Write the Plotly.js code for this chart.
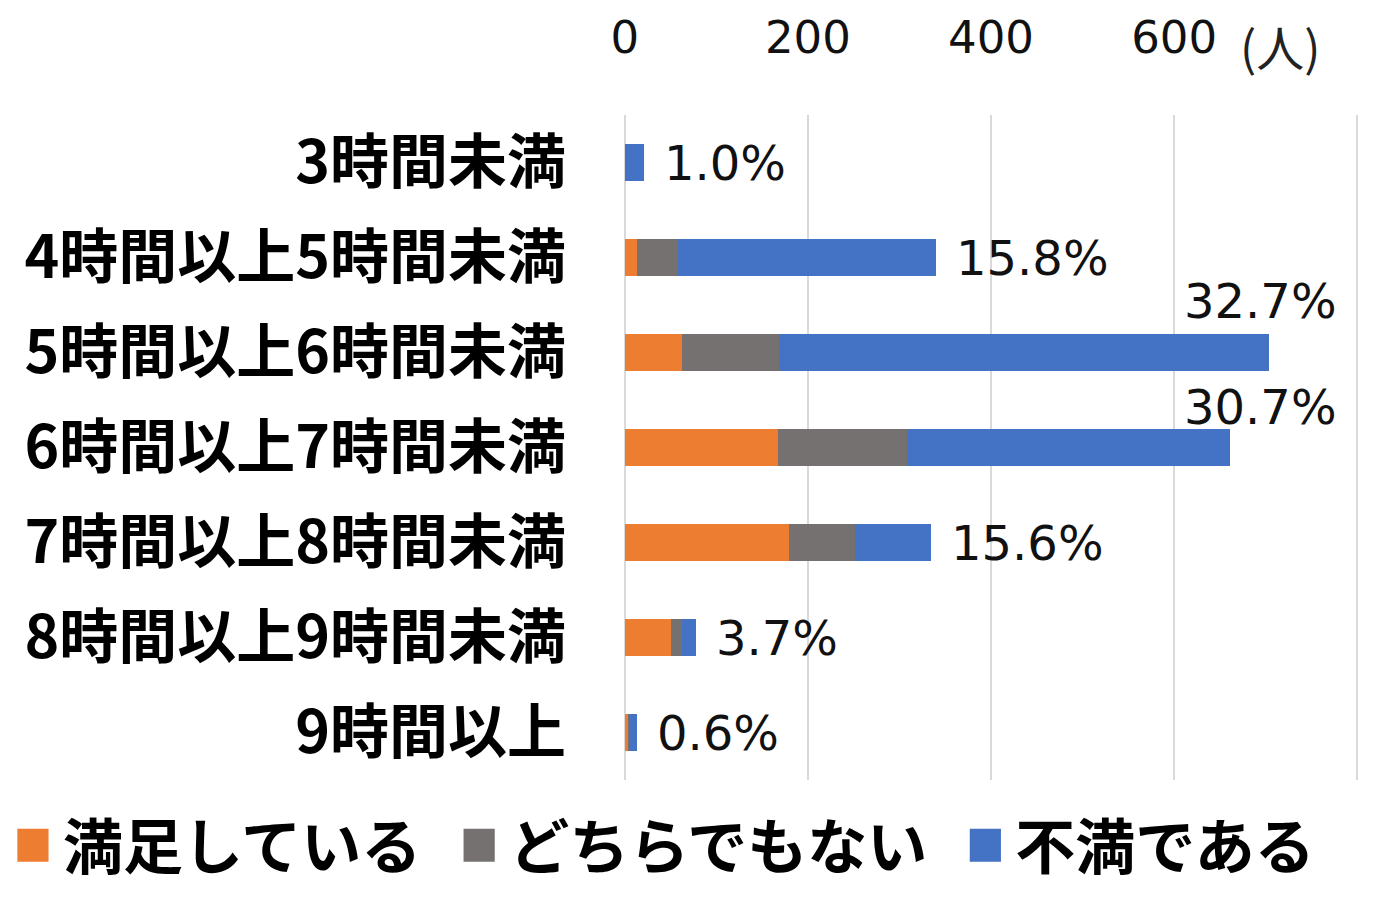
<!DOCTYPE html>
<html>
<head>
<meta charset="utf-8">
<script src="https://cdn.plot.ly/plotly-3.0.1.min.js"></script>
<style>html,body{margin:0;padding:0;background:#fff;}#chart{width:1380px;height:920px;}</style>
</head>
<body>
<div id="chart"></div>
<script>
const categories = ['3時間未満','4時間以上5時間未満','5時間以上6時間未満','6時間以上7時間未満','7時間以上8時間未満','8時間以上9時間未満','9時間以上'];
const satisfied = [0, 13, 63, 167, 179, 51, 4];
const neutral = [0, 45, 106, 141, 73, 12, 1];
const dissatisfied = [21, 282, 535, 353, 82, 15, 8];
const percentLabels = ['1.0%','15.8%','32.7%','30.7%','15.6%','3.7%','0.6%'];
const seriesNames = ['満足している','どちらでもない','不満である'];
const xTicks = [0, 200, 400, 600, 800];
const xTickText = ['0', '200', '400', '600', ''];

const colors = ['#ED7D31', '#767171', '#4472C4'];
const seriesData = [satisfied, neutral, dissatisfied];

const traces = seriesData.map((vals, i) => ({
  type: 'bar', orientation: 'h',
  y: categories, x: vals, name: seriesNames[i],
  marker: {color: colors[i]},
  hoverinfo: 'x+y+name'
}));

const totals = categories.map((c, i) => satisfied[i] + neutral[i] + dissatisfied[i]);
const labelFont = {family: 'DejaVu Sans, Verdana, sans-serif', size: 48, color: '#111'};
const aboveShift = {2: 52, 3: 41};
const annotations = categories.map((c, i) => {
  if (totals[i] > 600) {
    return {x: 1, xref: 'paper', y: c, yref: 'y', text: percentLabels[i], showarrow: false,
            xanchor: 'right', yanchor: 'middle', xshift: -22, yshift: aboveShift[i] || 46, font: labelFont};
  }
  return {x: totals[i], xref: 'x', y: c, yref: 'y', text: percentLabels[i], showarrow: false,
          xanchor: 'left', yanchor: 'middle', xshift: 18, font: labelFont};
});
annotations.push({x: 600, xref: 'x', y: 1, yref: 'paper', text: '(人)', showarrow: false,
  xanchor: 'left', yanchor: 'middle', xshift: 64, yshift: 70,
  font: {family: 'Noto Sans CJK JP, sans-serif', size: 48, color: '#222'}});

const layout = {
  width: 1380, height: 920,
  barmode: 'stack', bargap: 0.61,
  margin: {l: 622, r: 20, t: 115, b: 140, autoexpand: false},
  paper_bgcolor: '#fff', plot_bgcolor: '#fff',
  showlegend: true,
  legend: {orientation: 'h', x: -0.870, y: -0.098,
    xanchor: 'left', yanchor: 'middle', traceorder: 'normal',
    font: {family: 'Noto Sans CJK JP, sans-serif', size: 60, color: '#000', weight: 'bold'},
    itemwidth: 73, tracegroupgap: 0, bgcolor: 'rgba(0,0,0,0)'},
  xaxis: {side: 'top', range: [-3, 803], tickvals: xTicks, ticktext: xTickText,
    showgrid: true, gridcolor: '#d9d9d9', gridwidth: 2, zeroline: false,
    ticks: '', ticklabelstandoff: 52, showline: false,
    tickfont: {family: 'DejaVu Sans, sans-serif', size: 45, color: '#111'}},
  yaxis: {autorange: 'reversed', type: 'category', ticks: '', showline: false, showgrid: false,
    ticklabelstandoff: 55,
    tickfont: {family: 'Noto Sans CJK JP, sans-serif', size: 59, color: '#000', weight: 'bold'}},
  annotations: annotations
};

Plotly.newPlot('chart', traces, layout, {displayModeBar: false, staticPlot: true}).then(gd => {
  // enlarge legend swatches and place them just before their texts, as in the reference
  gd.querySelectorAll('.legend .traces').forEach(tr => {
    const path = tr.querySelector('.legendpoints path');
    const txt = tr.querySelector('text.legendtext');
    if (!path || !txt) return;
    const pb = path.getBoundingClientRect();
    const tb = txt.getBoundingClientRect();
    const cx = pb.left + pb.width / 2;
    const dx = (tb.left - 30) - cx;
    const orig = path.getAttribute('transform') || '';
    path.setAttribute('transform', orig + ' translate(' + dx + ',0) scale(2.6,2.75)');
    path.style.strokeWidth = '0';
  });
});
</script>
</body>
</html>
